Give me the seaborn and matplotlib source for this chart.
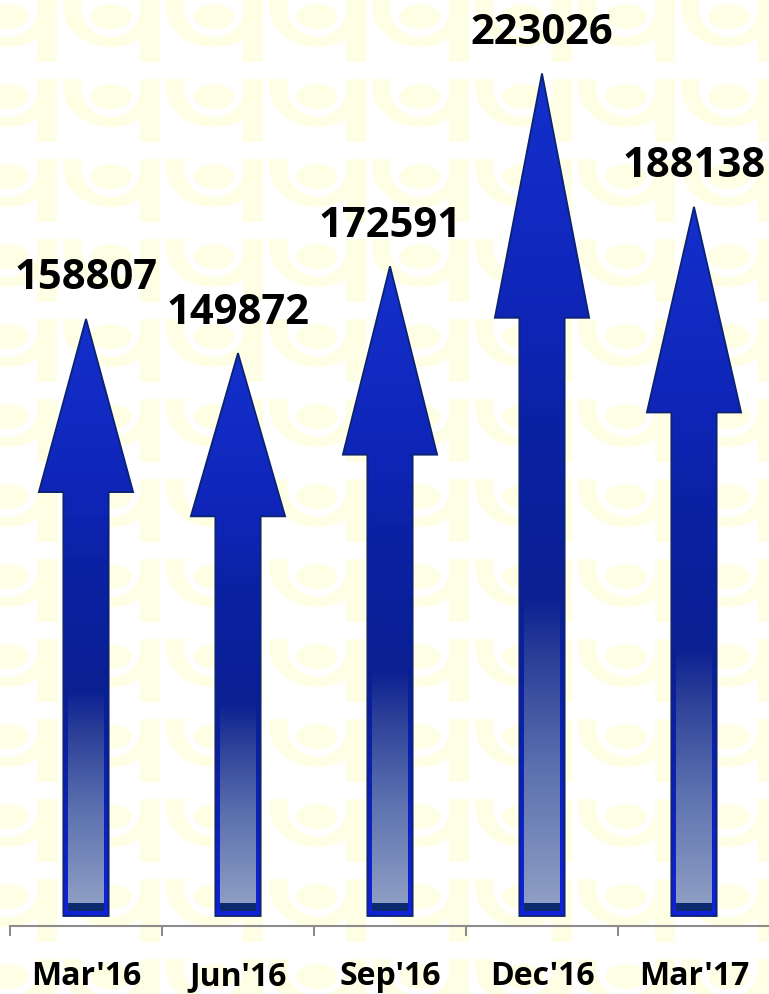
import numpy as np
import pandas as pd
import matplotlib
matplotlib.use('Agg')
import matplotlib.pyplot as plt
import seaborn as sns
from matplotlib.patches import Polygon, Rectangle, Ellipse
from matplotlib.colors import LinearSegmentedColormap

# data
quarters = ["Mar'16", "Jun'16", "Sep'16", "Dec'16", "Mar'17"]
values = [158807, 149872, 172591, 223026, 188138]
df = pd.DataFrame({'quarter': quarters, 'value': values})

sns.set_theme(style='white')
plt.rcParams['font.family'] = ['Open Sans', 'DejaVu Sans']

W, H = 769, 995
fig = plt.figure(figsize=(W / 100, H / 100), dpi=100)

# ---------------------------
# faint logo watermark in the background
# ---------------------------
bg = fig.add_axes([0, 0, 1, 1], zorder=0)
bg.set_xlim(0, W)
bg.set_ylim(H, 0)
bg.axis('off')
yel = '#fefee4'
for x0 in range(-40, W, 103):
    for y0 in range(0, H, 80):
        clip = Rectangle((x0, y0), 103, 63, transform=bg.transData)
        shapes = [
            Ellipse((x0 + 48, y0 + 8), 96, 80, color=yel),
            Ellipse((x0 + 48, y0 + 9), 60, 58, color='white'),
            Ellipse((x0 + 48, y0 + 17.5), 41, 25, color=yel),
            Rectangle((x0 + 77, y0), 20, 63, color=yel),
        ]
        for s in shapes:
            s.set_linewidth(0)
            bg.add_patch(s)
            s.set_clip_path(clip)

# ---------------------------
# main chart
# ---------------------------
ax = fig.add_axes([10 / W, 68 / H, 760 / W, 927 / H], zorder=1)
ax.patch.set_alpha(0)
sns.barplot(data=df, x='quarter', y='value', width=0.62, errorbar=None,
            color='#1228c8', ax=ax)

ymax = 242500
ax.set_ylim(0, ymax)
ax.set_xlim(-0.5, len(quarters) - 0.5)
ppx = ymax / 927.0  # data units per pixel

body_cmap = LinearSegmentedColormap.from_list('body', [
    (0.0, '#1122d8'), (0.38, '#0a1f92'), (0.6, '#0c22a6'),
    (0.71, '#0f25b8'), (1.0, '#1430cc')])
light_cmap = LinearSegmentedColormap.from_list('light', [
    (0.0, '#8e9ec4'), (0.45, '#5a6fae'), (0.8, '#2b3f98'), (1.0, '#0a1f92')])
grad = np.linspace(0, 1, 256).reshape(-1, 1)

for bar in list(ax.patches):
    cx = bar.get_x() + bar.get_width() / 2
    hw = bar.get_width() / 2
    sw = hw * 0.48
    tip = bar.get_height()
    bar.set_visible(False)

    bottom = 10 * ppx
    length = tip - bottom
    hb = tip - 0.29 * length
    pts = [(cx - sw, bottom), (cx - sw, hb), (cx - hw, hb), (cx, tip),
           (cx + hw, hb), (cx + sw, hb), (cx + sw, bottom)]
    arrow = Polygon(pts, closed=True, facecolor='none', edgecolor='#0b2370',
                    lw=1.3, zorder=4)
    ax.add_patch(arrow)
    img = ax.imshow(grad, extent=(cx - hw, cx + hw, bottom, tip), origin='lower',
                    aspect='auto', cmap=body_cmap, zorder=3)
    img.set_clip_path(arrow)

    # lighter inner panel of the shaft
    inset = 5 / 152.0
    band_lo = bottom + 5 * ppx
    band_hi = bottom + 13 * ppx
    ax.add_patch(Rectangle((cx - sw + inset, band_lo), 2 * (sw - inset),
                           band_hi - band_lo, facecolor='#0b2a6e', lw=0, zorder=5))
    ax.imshow(grad, extent=(cx - sw + inset, cx + sw - inset, band_hi,
                            bottom + 0.38 * length),
              origin='lower', aspect='auto', cmap=light_cmap, zorder=5)

    ax.annotate(f'{tip:.0f}', (cx, tip), xytext=(0, 22), textcoords='offset points',
                ha='center', va='baseline', fontsize=30, fontweight='bold',
                color='black', zorder=6)

ax.set_ylim(0, ymax)
ax.set_xlim(-0.5, len(quarters) - 0.5)

for side in ['left', 'right', 'top']:
    ax.spines[side].set_visible(False)
ax.spines['bottom'].set_color('#8c8c8c')
ax.spines['bottom'].set_linewidth(1.5)
ax.set_yticks([])
ax.set_xlabel('')
ax.set_ylabel('')
ax.set_xticks(range(len(quarters)))
ax.set_xticklabels(quarters, fontsize=23, fontweight='bold', color='black')
ax.tick_params(axis='x', which='major', length=0, pad=24)
ax.set_xticks(np.arange(-0.5, len(quarters), 1.0), minor=True)
ax.tick_params(axis='x', which='minor', length=7.5, width=1.5, color='#8c8c8c',
               direction='out', bottom=True)

fig.savefig('out.png', dpi=100)
